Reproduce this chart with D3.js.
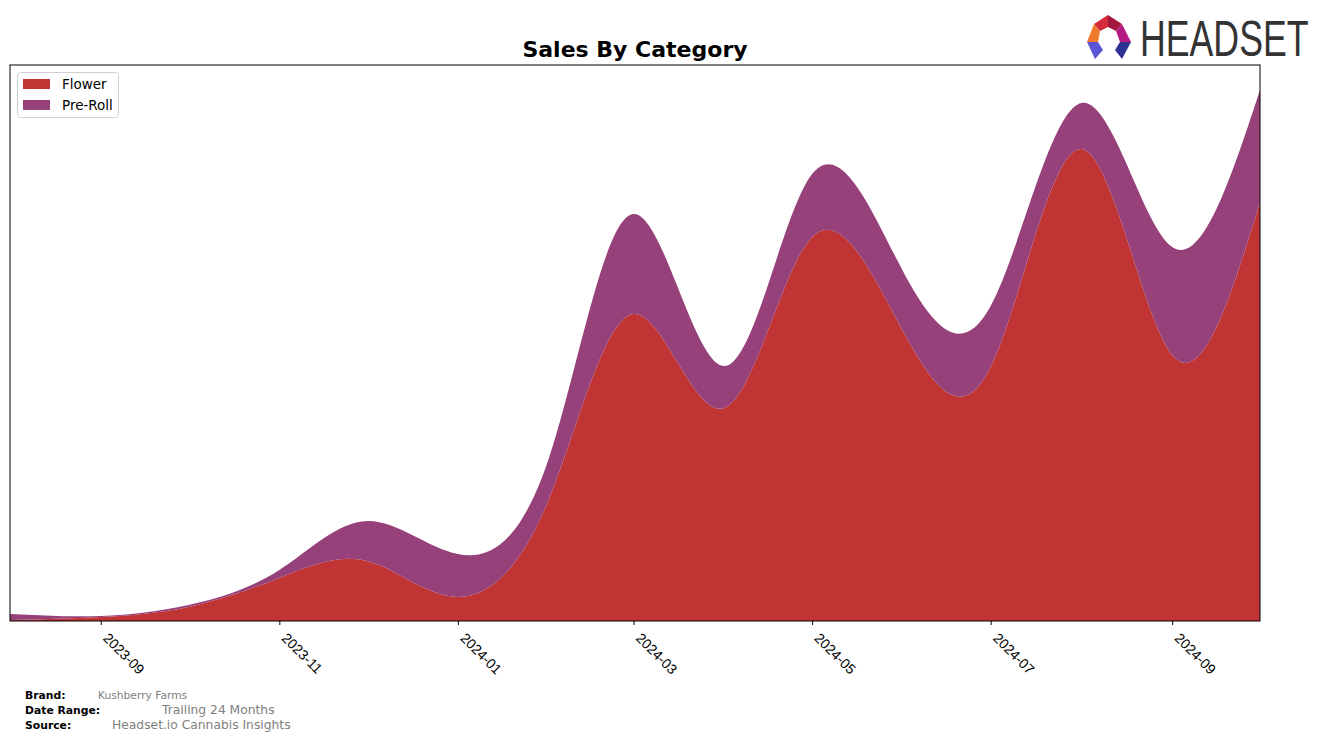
<!DOCTYPE html>
<html><head><meta charset="utf-8">
<script src="https://cdn.jsdelivr.net/npm/d3@7"></script>
<style>body{margin:0;background:#fff}svg{display:block;font-family:"DejaVu Sans",sans-serif}</style>
</head><body><svg id="c" width="1324" height="741"></svg>
<script>
const months = ["2023-08","2023-09","2023-10","2023-11","2023-12","2024-01","2024-02","2024-03","2024-04","2024-05","2024-06","2024-07","2024-08","2024-09","2024-10"];
const flower = [1, 4, 14, 43, 60, 24, 121, 307, 213, 384, 290, 254, 472, 266, 419];
const preRoll = [6, 1, 2, 8, 40, 43, 41, 100, 42, 63, 60, 61, 46, 108, 112];
const seriesNames = ["Flower", "Pre-Roll"];
const seriesColors = ["#c03434", "#96417a"];
const tickLabels = ["2023-09","2023-11","2024-01","2024-03","2024-05","2024-07","2024-09"];
const yMax = 556;

const svg = d3.select("#c");
const parse = d3.timeParse("%Y-%m");
const L = 10, R = 1260, T = 65, B = 621;
const x = d3.scaleTime().domain([parse(months[0]), parse(months[months.length-1])]).range([L, R]);
const y = d3.scaleLinear().domain([0, yMax]).range([B, T]);

const rows = months.map((m, i) => ({date: parse(m), "Flower": flower[i], "Pre-Roll": preRoll[i]}));
const stack = d3.stack().keys(seriesNames)(rows);

svg.append("defs").append("clipPath").attr("id","clip")
  .append("rect").attr("x",L).attr("y",T).attr("width",R-L).attr("height",B-T);

const area = d3.area().curve(d3.curveNatural)
  .x(d => x(d.data.date)).y0(d => y(Math.max(0,d[0]))).y1(d => y(Math.max(0,d[1])));

svg.append("g").attr("clip-path","url(#clip)").selectAll("path").data(stack).join("path")
  .attr("d", area).attr("fill", (d,i) => seriesColors[i]);

// frame
svg.append("rect").attr("x",L).attr("y",T).attr("width",R-L).attr("height",B-T)
  .attr("fill","none").attr("stroke","#000").attr("stroke-width",1);

// x axis
const ax = svg.append("g").attr("transform",`translate(0,${B})`)
  .call(d3.axisBottom(x).tickValues(tickLabels.map(parse)).tickSize(4).tickFormat(d3.timeFormat("%Y-%m")));
ax.select(".domain").remove();
ax.selectAll("line").attr("stroke","#000");
ax.selectAll("text").attr("font-size","14px").attr("fill","#000")
  .attr("text-anchor","start").attr("dy",null).attr("y",0)
  .attr("transform","translate(1,18) rotate(45)");

// title
svg.append("text").attr("x",635).attr("y",57).attr("text-anchor","middle")
  .attr("font-weight","bold").attr("font-size","22px").text("Sales By Category");

// legend
const lg = svg.append("g");
lg.append("rect").attr("x",17.5).attr("y",72.5).attr("width",101).attr("height",45).attr("rx",3)
  .attr("fill","#fff").attr("fill-opacity",0.8).attr("stroke","#d0d0d0");
seriesNames.forEach((n,i) => {
  lg.append("rect").attr("x",23).attr("y",79 + i*21).attr("width",27).attr("height",10).attr("fill",seriesColors[i]);
  lg.append("text").attr("x",62).attr("y",89 + i*21).attr("font-size","13.5px").text(n);
});

// footer
const foot = [["Brand:","Kushberry Farms",98,"10.7px"],["Date Range:","Trailing 24 Months",162,"12.3px"],["Source:","Headset.io Cannabis Insights",112,"12.3px"]];
foot.forEach((f,i) => {
  svg.append("text").attr("x",25).attr("y",699 + i*15).attr("font-size","10.8px").attr("font-weight","bold").text(f[0]);
  svg.append("text").attr("x",f[2]).attr("y",699 + i*15).attr("font-size",f[3]).attr("fill","#808080").text(f[1]);
});

// logo
const lgG = svg.append("g");
const polys = [
  [[[1094,24],[1108,15],[1108,27],[1100,31]],"#d42a3a"],
  [[[1108,15],[1122,24],[1116,31],[1108,27]],"#a3173e"],
  [[[1094,24],[1100,31],[1098,42],[1087,42]],"#f07b2c"],
  [[[1122,24],[1131,42],[1120,42],[1116,31]],"#b51a82"],
  [[[1087,42],[1098,42],[1103,50],[1095,59]],"#5b55d6"],
  [[[1131,42],[1120,42],[1115,50],[1122,59]],"#2f3192"]
];
polys.forEach(p => lgG.append("polygon").attr("points", p[0].map(q=>q.join(",")).join(" ")).attr("fill", p[1]));
svg.append("text").attr("transform","translate(1140,56) scale(0.83,1.16)")
  .attr("font-family","'Liberation Sans',sans-serif")
  .attr("font-size","43px").attr("fill","#333").text("HEADSET");
</script></body></html>
